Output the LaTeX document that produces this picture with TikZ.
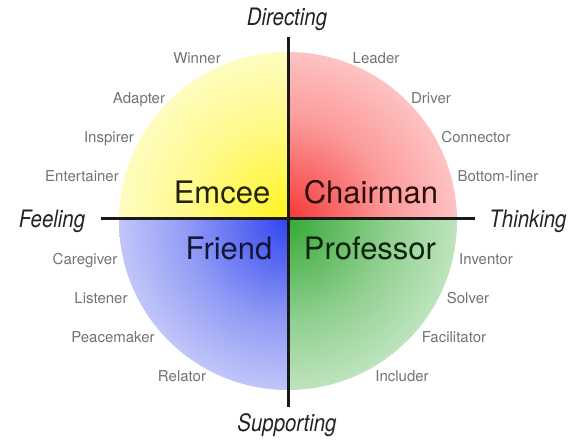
\documentclass[tikz,border=0pt]{standalone}
\usepackage{fontspec}
\setmainfont{TeX Gyre Heros}
\definecolor{y0}{RGB}{255,244,30}
\definecolor{y1}{RGB}{255,250,140}
\definecolor{y2}{RGB}{255,254,232}
\definecolor{r0}{RGB}{245,55,55}
\definecolor{r1}{RGB}{252,155,155}
\definecolor{r2}{RGB}{255,226,226}
\definecolor{b0}{RGB}{50,70,240}
\definecolor{b1}{RGB}{145,155,245}
\definecolor{b2}{RGB}{230,232,252}
\definecolor{g0}{RGB}{55,170,55}
\definecolor{g1}{RGB}{145,208,145}
\definecolor{g2}{RGB}{226,244,226}
\definecolor{smallgray}{RGB}{115,115,115}
\definecolor{axisgray}{RGB}{35,35,35}
\pgfdeclareradialshading{yq}{\pgfpoint{0bp}{0bp}}{color(0bp)=(y0); color(15bp)=(y1); color(33bp)=(y2); color(50bp)=(y2)}
\pgfdeclareradialshading{rq}{\pgfpoint{0bp}{0bp}}{color(0bp)=(r0); color(15bp)=(r1); color(33bp)=(r2); color(50bp)=(r2)}
\pgfdeclareradialshading{bq}{\pgfpoint{0bp}{0bp}}{color(0bp)=(b0); color(15bp)=(b1); color(33bp)=(b2); color(50bp)=(b2)}
\pgfdeclareradialshading{gq}{\pgfpoint{0bp}{0bp}}{color(0bp)=(g0); color(15bp)=(g1); color(33bp)=(g2); color(50bp)=(g2)}
\tikzset{
  role/.style={anchor=base, inner sep=0pt, text=smallgray, font=\fontsize{15}{15}\selectfont},
  bigname/.style={anchor=base, inner sep=0pt, font=\fontsize{31}{31}\selectfont},
  axislabel/.style={anchor=base, inner sep=0pt, text=axisgray, font=\fontsize{24}{24}\selectfont\itshape},
  axisline/.style={line width=3pt, draw=black!90}
}
\begin{document}
\begin{tikzpicture}[x=1pt,y=-1pt]
\useasboundingbox (0,0) rectangle (585,440);
\fill[white] (0,0) rectangle (585,440);
\coordinate (C) at (288,221);
% quadrants
\begin{scope}
\clip (288,218) rectangle (0,0);
\shade[shading=yq] (C) circle (169pt);
\end{scope}
\begin{scope}
\clip (288,218) rectangle (585,0);
\shade[shading=rq] (C) circle (169pt);
\end{scope}
\begin{scope}
\clip (288,218) rectangle (0,440);
\shade[shading=bq] (C) circle (169pt);
\end{scope}
\begin{scope}
\clip (288,218) rectangle (585,440);
\shade[shading=gq] (C) circle (169pt);
\end{scope}
% axes
\coordinate (top) at (288,37);
\coordinate (bot) at (288,407);
\coordinate (lft) at (101,218);
\coordinate (rgt) at (475,218);
\draw[axisline] (top) -- (bot);
\draw[axisline] (lft) -- (rgt);
% axis labels
\node[axislabel] (dir) at (287,25) {\scalebox{0.85}[1]{Directing}};
\node[axislabel] (sup) at (287,431) {\scalebox{0.85}[1]{Supporting}};
\node[axislabel] (feel) at (52,227) {\scalebox{0.85}[1]{Feeling}};
\node[axislabel] (think) at (528,227) {\scalebox{0.85}[1]{Thinking}};
% big names
\node[bigname, text={rgb,255:red,35;green,35;blue,10}] (emcee) at (222,203) {Emcee};
\node[bigname, text={rgb,255:red,45;green,12;blue,12}] (chair) at (371,203) {Chairman};
\node[bigname, text={rgb,255:red,20;green,22;blue,55}] (friend) at (229,259) {Friend};
\node[bigname, text={rgb,255:red,15;green,35;blue,15}] (prof) at (370,259) {Professor};
% roles
\node[role] (winner) at (197,63.5) {Winner};
\node[role] (adapter) at (139,103) {Adapter};
\node[role] (inspirer) at (109,142.5) {Inspirer};
\node[role] (entert) at (82,181.5) {Entertainer};
\node[role] (leader) at (376,63.5) {Leader};
\node[role] (driver) at (431,103) {Driver};
\node[role] (connector) at (476,142.5) {Connector};
\node[role] (bottom) at (498,181.5) {Bottom-liner};
\node[role] (caregiver) at (85,264) {Caregiver};
\node[role] (listener) at (101,303.5) {Listener};
\node[role] (peace) at (113,342.5) {Peacemaker};
\node[role] (relator) at (182,381.5) {Relator};
\node[role] (inventor) at (486,264) {Inventor};
\node[role] (solver) at (468,303.5) {Solver};
\node[role] (facil) at (454,342.5) {Facilitator};
\node[role] (includer) at (402,381.5) {Includer};
\end{tikzpicture}
\end{document}
